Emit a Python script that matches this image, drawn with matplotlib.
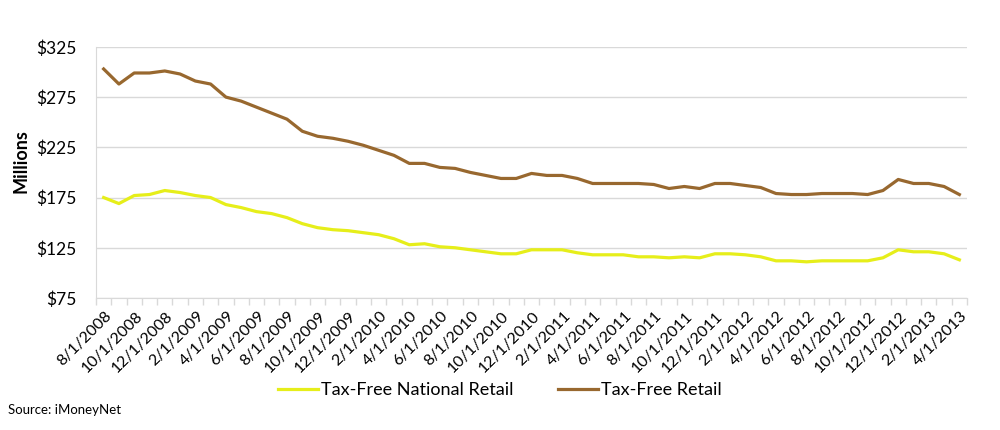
import matplotlib
matplotlib.use("Agg")
import matplotlib.pyplot as plt
import matplotlib.transforms as mtransforms
import pandas as pd

# monthly, 8/1/2008 .. 4/1/2013
months = pd.date_range("2008-08-01", "2013-04-01", freq="MS")
month_labels = ["{}/1/{}".format(d.month, d.year) for d in months]

national_retail = [
    175, 169, 177, 178, 182, 180, 177, 175, 168, 165,
    161, 159, 155, 149, 145, 143, 142, 140, 138, 134,
    128, 129, 126, 125, 123, 121, 119, 119, 123, 123,
    123, 120, 118, 118, 118, 116, 116, 115, 116, 115,
    119, 119, 118, 116, 112, 112, 111, 112, 112, 112,
    112, 115, 123, 121, 121, 119, 113,
]
tax_free_retail = [
    303, 288, 299, 299, 301, 298, 291, 288, 275, 271,
    265, 259, 253, 241, 236, 234, 231, 227, 222, 217,
    209, 209, 205, 204, 200, 197, 194, 194, 199, 197,
    197, 194, 189, 189, 189, 189, 188, 184, 186, 184,
    189, 189, 187, 185, 179, 178, 178, 179, 179, 179,
    178, 182, 193, 189, 189, 186, 178,
]

yticks = [75, 125, 175, 225, 275, 325]

yellow = "#e6ee1a"
brown = "#98682f"
grid_grey = "#d9d9d9"
font = ["Lato", "DejaVu Sans"]


def main():
    plt.rcParams["font.family"] = font
    fig = plt.figure(figsize=(10, 4.3), dpi=100)
    ax = fig.add_axes([0.096, 0.307, 0.871, 0.584])

    x = list(range(len(months)))
    ax.plot(x, national_retail, color=yellow, lw=2.3, label="Tax-Free National Retail")
    ax.plot(x, tax_free_retail, color=brown, lw=2.3, label="Tax-Free Retail")

    ax.set_ylim(75, 325)
    ax.set_yticks(yticks)
    ax.set_yticklabels(["${}".format(v) for v in yticks], fontsize=12.5)
    ax.yaxis.grid(True, color=grid_grey, lw=1)
    ax.set_axisbelow(True)

    ax.set_xlim(-0.5, len(months) - 0.5)
    ax.set_xticks([i - 0.5 for i in range(len(months) + 1)])
    ax.set_xticklabels([])
    ax.tick_params(axis="x", length=5, color=grid_grey, width=1)
    ax.tick_params(axis="y", length=0, pad=14)

    # rotated category labels, end of text just right of and below the category
    shift = mtransforms.ScaledTranslation(0.06, -0.16, fig.dpi_scale_trans)
    for i in x[::2]:
        ax.text(i, 0, month_labels[i], transform=ax.get_xaxis_transform() + shift,
                rotation=45, ha="right", va="center", rotation_mode="anchor",
                fontsize=11.5)

    for side in ["top", "right"]:
        ax.spines[side].set_visible(False)
    ax.spines["left"].set_color(grid_grey)
    ax.spines["bottom"].set_color(grid_grey)

    ax.set_ylabel("Millions", fontsize=13, fontweight="bold")
    ax.yaxis.set_label_coords(-0.076, 0.546)

    fig.legend(loc="center", bbox_to_anchor=(0.5, 1 - 390 / 430), ncol=2,
               frameon=False, fontsize=13, handlelength=2.2, handletextpad=0.15,
               columnspacing=2.5)
    fig.text(0.008, 1 - 410 / 430, "Source: iMoneyNet", fontsize=9.5, va="center")

    fig.savefig("out.png", dpi=100)


if __name__ == "__main__":
    main()
